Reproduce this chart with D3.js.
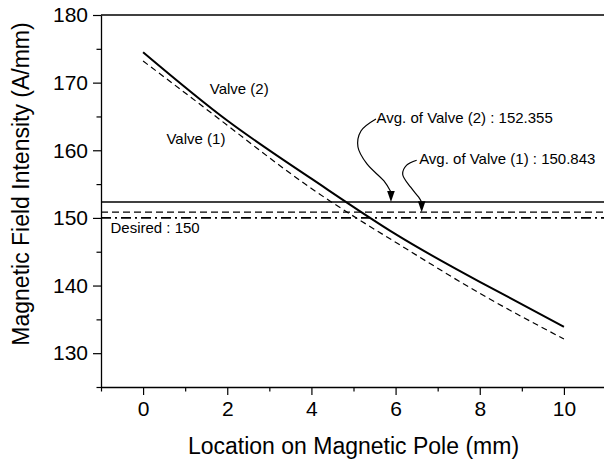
<!DOCTYPE html>
<html>
<head>
<meta charset="utf-8">
<script src="https://cdn.jsdelivr.net/npm/d3@7"></script>
<style>
  html, body { margin: 0; padding: 0; background: #fff; }
  svg { display: block; font-family: "Liberation Sans", Arial, sans-serif; }
</style>
</head>
<body>
<svg id="chart" width="604" height="460"></svg>
<script>
// Measured field intensity along the pole, per valve
const polePositions = [0, 2, 4, 6, 8, 10];
const valve1 = [173.2, 163.7, 154.35, 146.4, 138.85, 132.1];
const valve2 = [174.5, 164.4, 155.8, 147.6, 140.55, 133.9];

// Reference levels
const avgValve1 = 150.843;
const avgValve2 = 152.355;
const desired = 150;

// Axis ticks
const xMajorTicks = [0, 2, 4, 6, 8, 10];
const xMinorTicks = [-1, 1, 3, 5, 7, 9, 11];
const yMajorTicks = [130, 140, 150, 160, 170, 180];
const yMinorTicks = [125, 135, 145, 155, 165, 175];

// Annotation anchors in data units
const curveLabels = [
  { text: "Valve (2)", x: 1.585, y: 168.3 },
  { text: "Valve (1)", x: 0.556, y: 160.93 }
];
const levelLabels = [
  { text: "Avg. of Valve (2) : 152.355", x: 5.548, y: 163.99 },
  { text: "Avg. of Valve (1) : 150.843", x: 6.56, y: 157.97 },
  { text: "Desired : 150", x: -0.775, y: 147.73 }
];
const arrowTips = [
  { x: 5.89, level: avgValve2 },
  { x: 6.62, level: avgValve1 }
];

const svg = d3.select("#chart");
const x = d3.scaleLinear().domain([-1, 11]).range([101, 606]);
const y = d3.scaleLinear().domain([125, 180]).range([387, 15]);

const ink = "#000";

// Frame top edge
svg.append("line")
  .attr("x1", x(-1)).attr("x2", x(11))
  .attr("y1", y(180)).attr("y2", y(180))
  .attr("stroke", ink).attr("stroke-width", 1.3);

// Axes
function styleAxis(g) {
  g.selectAll("path.domain").attr("stroke", ink).attr("stroke-width", 1.3);
  g.selectAll(".tick line").attr("stroke", ink).attr("stroke-width", 1.2);
  g.selectAll(".tick text").attr("fill", ink)
    .style("font-family", "'Liberation Sans', Arial, sans-serif").style("font-size", "21px");
}

const xAxis = svg.append("g").attr("transform", `translate(0,${y(125)})`)
  .call(d3.axisBottom(x).tickValues(xMajorTicks).tickSize(8).tickSizeOuter(0).tickPadding(6).tickFormat(d3.format("d")));
styleAxis(xAxis);
svg.append("g").attr("transform", `translate(0,${y(125)})`)
  .call(d3.axisBottom(x).tickValues(xMinorTicks).tickSize(4.5).tickSizeOuter(0).tickFormat(""))
  .call(g => g.select("path.domain").remove())
  .call(styleAxis);

const yAxis = svg.append("g").attr("transform", `translate(${x(-1)},0)`)
  .call(d3.axisLeft(y).tickValues(yMajorTicks).tickSize(8).tickSizeOuter(0).tickPadding(5).tickFormat(d3.format("d")));
styleAxis(yAxis);
svg.append("g").attr("transform", `translate(${x(-1)},0)`)
  .call(d3.axisLeft(y).tickValues(yMinorTicks).tickSize(4.5).tickSizeOuter(0).tickFormat(""))
  .call(g => g.select("path.domain").remove())
  .call(styleAxis);

// Axis titles
svg.append("text")
  .attr("x", (x(-1) + x(11)) / 2).attr("y", 454)
  .attr("text-anchor", "middle")
  .style("font-size", "23px").attr("fill", ink)
  .text("Location on Magnetic Pole (mm)");

svg.append("text")
  .attr("transform", `translate(29,184) rotate(-90)`)
  .attr("text-anchor", "middle")
  .style("font-size", "23px").attr("fill", ink)
  .text("Magnetic Field Intensity (A/mm)");

// Horizontal reference levels
const levels = [
  { v: avgValve2, dash: null, w: 1.4 },
  { v: avgValve1, dash: "7,4", w: 1.3 },
  { v: desired, dash: "10,4,2,4", w: 1.8 }
];
svg.selectAll("line.level").data(levels).join("line")
  .attr("class", "level")
  .attr("x1", x(-1)).attr("x2", x(11))
  .attr("y1", d => y(d.v)).attr("y2", d => y(d.v))
  .attr("stroke", ink)
  .attr("stroke-width", d => d.w)
  .attr("stroke-dasharray", d => d.dash);

// Valve curves
const line = d3.line().x(d => x(d[0])).y(d => y(d[1])).curve(d3.curveNatural);
svg.append("path")
  .datum(polePositions.map((l, i) => [l, valve1[i]]))
  .attr("d", line).attr("fill", "none")
  .attr("stroke", ink).attr("stroke-width", 1.2).attr("stroke-dasharray", "6,4");
svg.append("path")
  .datum(polePositions.map((l, i) => [l, valve2[i]]))
  .attr("d", line).attr("fill", "none")
  .attr("stroke", ink).attr("stroke-width", 2);

// Text labels
svg.selectAll("text.lbl").data(curveLabels.concat(levelLabels)).join("text")
  .attr("class", "lbl")
  .attr("x", d => x(d.x)).attr("y", d => y(d.y))
  .style("font-size", "15px").attr("fill", ink)
  .text(d => d.text);

// Curved pointer arrows from the average labels down to their levels
const arrowBends = [
  [[-15, -83], [-30, -71], [-33, -55], [-24, -38], [-7, -21], [0, -10]],
  [[-5, -52], [-15, -47], [-19, -38], [-11, -25], [-3, -15], [0, -10]]
];
const bend = d3.line().curve(d3.curveCatmullRom.alpha(0.5));
arrowTips.forEach((t, i) => {
  const tx = x(t.x), ty = y(t.level);
  svg.append("path")
    .attr("d", bend(arrowBends[i].map(p => [tx + p[0], ty + p[1]])))
    .attr("fill", "none").attr("stroke", ink).attr("stroke-width", 1.2);
  svg.append("path")
    .attr("d", `M${tx},${ty} L${tx - 3.8},${ty - 11} L${tx + 3.8},${ty - 11} Z`)
    .attr("fill", ink);
});
</script>
</body>
</html>
